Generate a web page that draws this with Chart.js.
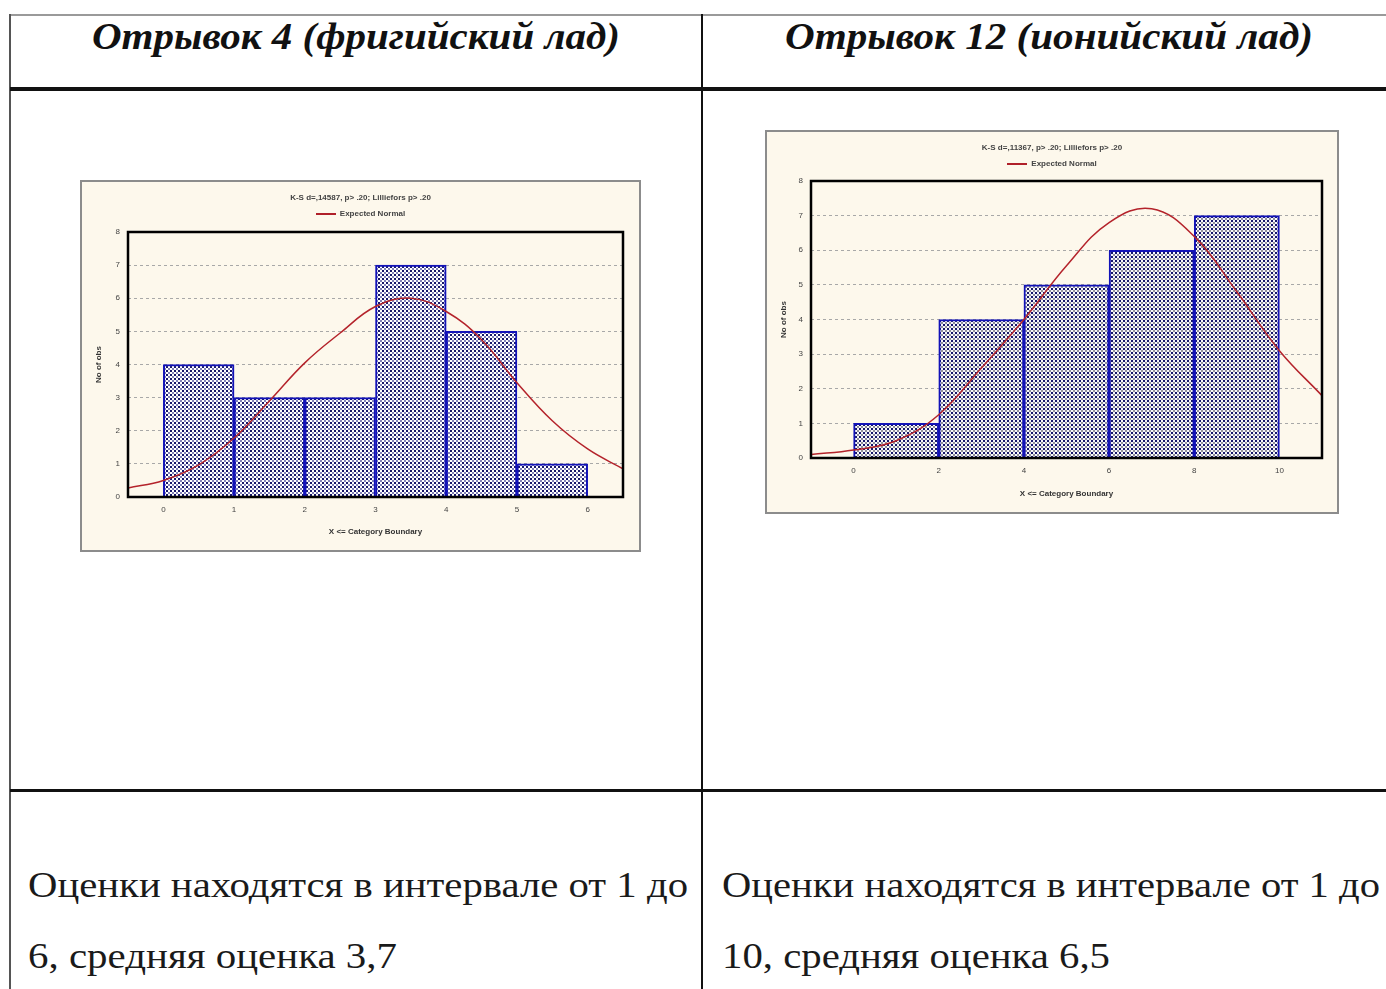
<!DOCTYPE html>
<html>
<head>
<meta charset="utf-8">
<script src="https://cdn.jsdelivr.net/npm/chart.js@4.4.1/dist/chart.umd.min.js"></script>
<style>
  body { margin: 0; background: #fff; }
  #page { position: relative; width: 1386px; height: 989px; overflow: hidden; background: #fff; }
  .ln { position: absolute; }
  .hdr { position: absolute; font-family: "Liberation Serif", "DejaVu Serif", serif; font-weight: bold; font-style: italic;
         font-size: 37px; line-height: 1; white-space: nowrap; color: #111; transform-origin: left top; }
  .txt { position: absolute; font-family: "Liberation Serif", "DejaVu Serif", serif; font-size: 36px; line-height: 1;
         white-space: nowrap; color: #1a1a1a; transform-origin: left top; }
  .box { position: absolute; box-sizing: border-box; border: 2px solid #8c8c8c; background: #fdf8ec; }
  .box canvas { position: absolute; left: 0; top: 0; }
  .ctitle { position: absolute; left: 0; width: 100%; text-align: center; font-family: "Liberation Sans", Arial, sans-serif;
            font-size: 8px; font-weight: bold; color: #444; white-space: nowrap; }
  .leg { position: absolute; left: 0; width: 100%; text-align: center; font-family: "Liberation Sans", Arial, sans-serif;
         font-size: 8px; font-weight: bold; color: #444; white-space: nowrap; }
  .leg i { display: inline-block; width: 20px; height: 2px; background: #b0202a; vertical-align: middle; margin-right: 4px; }
</style>
</head>
<body>
<div id="page">
  <!-- линии таблицы -->
  <div class="ln" style="left:10px;top:14px;width:1376px;height:2px;background:#9a9a9a"></div>
  <div class="ln" style="left:9px;top:14px;width:2px;height:975px;background:#555"></div>
  <div class="ln" style="left:701px;top:14px;width:2px;height:975px;background:#111"></div>
  <div class="ln" style="left:10px;top:87px;width:1376px;height:4px;background:#111"></div>
  <div class="ln" style="left:10px;top:789px;width:1376px;height:3px;background:#111"></div>

  <div class="hdr" id="h1" style="left:92px;top:18px">Отрывок 4 (фригийский лад)</div>
  <div class="hdr" id="h2" style="left:785px;top:18px">Отрывок 12 (ионийский лад)</div>

  <div class="box" style="left:80px;top:180px;width:561px;height:372px">
    <canvas id="chart1" width="557" height="368"></canvas>
    <div class="ctitle" style="top:11px">K-S d=,14587, p&gt; .20; Lilliefors p&gt; .20</div>
    <div class="leg" style="top:27px"><i></i>Expected Normal</div>
  </div>

  <div class="box" style="left:765px;top:130px;width:574px;height:384px">
    <canvas id="chart2" width="570" height="380"></canvas>
    <div class="ctitle" style="top:11px">K-S d=,11367, p&gt; .20; Lilliefors p&gt; .20</div>
    <div class="leg" style="top:27px"><i></i>Expected Normal</div>
  </div>

  <div class="txt" id="t1" style="left:28px;top:867px">Оценки находятся в интервале от 1 до</div>
  <div class="txt" id="t2" style="left:28px;top:938px">6, средняя оценка 3,7</div>
  <div class="txt" id="t3" style="left:722px;top:867px">Оценки находятся в интервале от 1 до</div>
  <div class="txt" id="t4" style="left:722px;top:938px">10, средняя оценка 6,5</div>
</div>

<script>
// Данные: отрывок 4
const chart1Edges = [0, 1, 2, 3, 4, 5, 6];
const chart1Counts = [4, 3, 3, 7, 5, 1];
const chart1CurveX = [-0.5, 0, 0.5, 1, 1.5, 2, 2.5, 3, 3.5, 4, 4.5, 5, 5.5, 6, 6.5];
const chart1CurveY = [0.27, 0.5, 0.97, 1.78, 2.9, 4.05, 4.95, 5.75, 6.0, 5.6, 4.75, 3.45, 2.3, 1.45, 0.85];
const chart1XTicks = [0, 1, 2, 3, 4, 5, 6];

// Данные: отрывок 12
const chart2Edges = [0, 2, 4, 6, 8, 10];
const chart2Counts = [1, 4, 5, 6, 7];
const chart2CurveX = [-1, 0, 1, 2, 3, 4, 5, 6, 7, 8, 9, 10, 11];
const chart2CurveY = [0.1, 0.23, 0.5, 1.25, 2.6, 4.0, 5.55, 6.8, 7.2, 6.4, 4.8, 3.1, 1.8];
const chart2XTicks = [0, 2, 4, 6, 8, 10];

const yTicks = [0, 1, 2, 3, 4, 5, 6, 7, 8];

// подгонка ширины текста
function fitText(id, target) {
    const el = document.getElementById(id);
    const w = el.getBoundingClientRect().width;
    if (w > 0) el.style.transform = 'scaleX(' + (target / w) + ')';
}
fitText('h1', 528);
fitText('h2', 528);
fitText('t1', 660);
fitText('t2', 369);
fitText('t3', 658);
fitText('t4', 388);

// штриховка столбцов
function makePattern(bg, dark, mid) {
    const c = document.createElement('canvas');
    c.width = 4; c.height = 4;
    const g = c.getContext('2d');
    g.fillStyle = bg; g.fillRect(0, 0, 4, 4);
    g.fillStyle = dark;
    g.fillRect(0, 0, 2, 2);
    g.fillStyle = mid;
    g.fillRect(2, 2, 2, 2);
    return g.createPattern(c, 'repeat');
}

// рамка области построения
const frame = {
    id: 'frame',
    afterDraw(chart) {
        const a = chart.chartArea, ctx = chart.ctx;
        ctx.save();
        ctx.strokeStyle = '#000';
        ctx.lineWidth = 2.5;
        ctx.strokeRect(a.left, a.top, a.right - a.left, a.bottom - a.top);
        ctx.restore();
    }
};

function renderHistogram(canvasId, edges, counts, curveX, curveY, xTicks, xMin, xMax, pattern, pad, yWidth, xHeight) {
    const canvas = document.getElementById(canvasId);
    if (!canvas) {
        console.error('Canvas ' + canvasId + ' не найден');
        return;
    }
    const bars = counts.map((v, i) => ({ x: (edges[i] + edges[i + 1]) / 2, y: v }));
    const curve = curveX.map((x, i) => ({ x: x, y: curveY[i] }));

    new Chart(canvas, {
        data: {
            datasets: [
                {
                    type: 'line',
                    label: 'Expected Normal',
                    data: curve,
                    borderColor: '#b4232b',
                    borderWidth: 1.5,
                    pointRadius: 0,
                    tension: 0.4,
                    order: 0
                },
                {
                    type: 'bar',
                    label: 'Histogram',
                    data: bars,
                    backgroundColor: pattern,
                    borderColor: '#1212b8',
                    borderWidth: 2,
                    borderSkipped: 'bottom',
                    barPercentage: 1,
                    categoryPercentage: 1,
                    order: 1
                }
            ]
        },
        plugins: [frame],
        options: {
            responsive: false,
            animation: false,
            layout: { padding: pad },
            plugins: {
                legend: { display: false },
                title: { display: false },
                tooltip: { enabled: false }
            },
            scales: {
                x: {
                    type: 'linear',
                    min: xMin,
                    max: xMax,
                    offset: false,
                    afterBuildTicks: (s) => { s.ticks = xTicks.map(v => ({ value: v })); },
                    afterFit: (s) => { s.height = xHeight; },
                    grid: { display: false },
                    border: { display: false },
                    ticks: { padding: 0, color: '#444', font: { family: 'Liberation Sans', size: 8 } },
                    title: {
                        display: true,
                        text: 'X <= Category Boundary',
                        color: '#333',
                        padding: { top: 0, bottom: 8 },
                        font: { family: 'Liberation Sans', size: 8, weight: 'bold' }
                    }
                },
                y: {
                    min: 0,
                    max: 8,
                    afterBuildTicks: (s) => { s.ticks = yTicks.map(v => ({ value: v })); },
                    afterFit: (s) => { s.width = yWidth; },
                    grid: { color: '#a8a8a8', drawTicks: false, lineWidth: 1 },
                    border: { display: false, dash: [3, 3] },
                    ticks: { padding: 8, color: '#444', font: { family: 'Liberation Sans', size: 8 } },
                    title: {
                        display: true,
                        text: 'No of obs',
                        color: '#333',
                        padding: { top: 6, bottom: 0 },
                        font: { family: 'Liberation Sans', size: 8, weight: 'bold' }
                    }
                }
            }
        }
    });
}

renderHistogram('chart1', chart1Edges, chart1Counts, chart1CurveX, chart1CurveY, chart1XTicks, -0.5, 6.5,
    makePattern('#ffffff', '#16166a', '#8080b8'), { top: 50, left: 6, right: 16, bottom: 5 }, 40, 48);

renderHistogram('chart2', chart2Edges, chart2Counts, chart2CurveX, chart2CurveY, chart2XTicks, -1, 11,
    makePattern('#f6f6fb', '#16166a', '#8e8e98'), { top: 49, left: 6, right: 15, bottom: 5 }, 38, 49);
</script>
</body>
</html>
